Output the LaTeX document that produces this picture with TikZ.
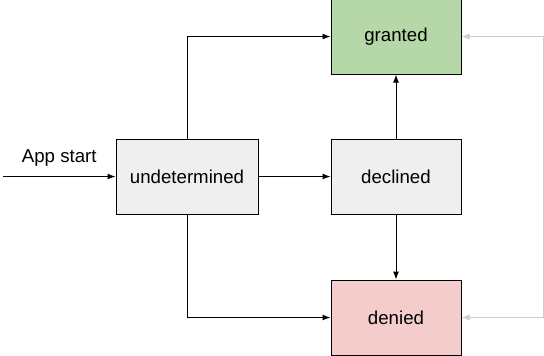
\documentclass[tikz,border=0pt]{standalone}
\usepackage{fontspec}
\setmainfont{Liberation Sans}
\usetikzlibrary{arrows.meta,positioning}
\definecolor{stgray}{HTML}{EFEFEF}
\definecolor{stgreen}{HTML}{B6D7A8}
\definecolor{stred}{HTML}{F4CCCC}
\definecolor{backline}{HTML}{CCCCCC}

\begin{document}
\begin{tikzpicture}[
    x=0.75pt, y=-0.75pt,
    font=\fontsize{14}{16}\selectfont,
    arr/.style={-{Latex[length=6pt,width=4.5pt]}, line width=0.75pt},
    backarr/.style={{Latex[length=6pt,width=4.5pt]}-{Latex[length=6pt,width=4.5pt]},
      line width=0.75pt, draw=backline},
    state/.style={
      draw, line width=0.75pt, align=center,
      minimum width=97.5pt, minimum height=56.25pt, inner sep=2pt,
      fill=stgray
    }
  ]
    \useasboundingbox (0,0) rectangle (544,355);

    % --- estados ---
    \node[state, minimum width=106.5pt] (undet) at (187,176.5) {undetermined};
    \node[state, right=54pt of undet] (declined) {declined};
    \node[state, fill=stgreen, above=48pt of declined] (granted) {granted};
    \node[state, fill=stred, below=48.75pt of declined] (denied) {denied};

    % --- entrada ---
    \coordinate (start) at (3,176.5);
    \coordinate (rtop) at ([xshift=61.5pt]granted.east);

    % --- flechas ---
    \draw[arr] (start) -- node[above=4pt, pos=0.5] (applbl) {App start} (undet.west);
    \draw[arr] (undet.north) |- (granted.west);
    \draw[arr] (undet.east) -- (declined.west);
    \draw[arr] (undet.south) |- (denied.west);
    \draw[arr] (declined.north) -- (granted.south);
    \draw[arr] (declined.south) -- (denied.north);
    \draw[backarr] (granted.east) -- (rtop) |- (denied.east);
\end{tikzpicture}
\end{document}
